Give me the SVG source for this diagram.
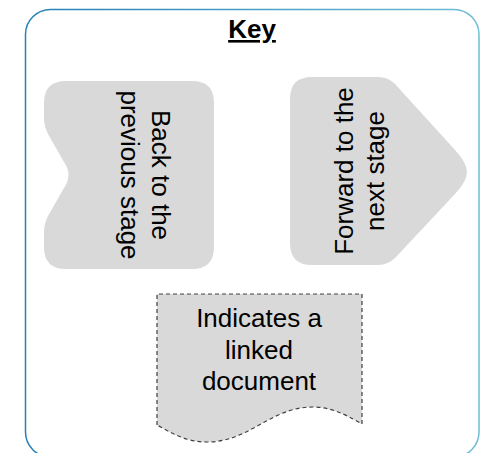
<svg xmlns="http://www.w3.org/2000/svg" width="493" height="453" viewBox="0 0 493 453">
<defs>
<linearGradient id="frameGrad" x1="0" y1="0" x2="1" y2="0">
<stop offset="0" stop-color="#2381B6"/>
<stop offset="1" stop-color="#6FBDD4"/>
</linearGradient>
</defs>
<style>
.lbl{font-family:"Liberation Sans",Arial,sans-serif;font-size:26px;fill:#000;text-anchor:middle}
.shape{fill:#D9D9D9;stroke:none}
.doc{fill:#D9D9D9;stroke:#404040;stroke-width:1.2;stroke-dasharray:4 3}
</style>
<rect width="493" height="453" fill="#fff"/>
<g id="frame">
<rect x="25.5" y="9.5" width="453.5" height="447.5" rx="25" ry="25" fill="none" stroke="url(#frameGrad)" stroke-width="1.5"/>
<text class="lbl" x="252" y="38" font-weight="bold" text-decoration="underline">Key</text>
</g>
<g id="back">
<path class="shape" d="M 66,81 H 192 Q 214,81 214,103 V 247 Q 214,269 192,269 H 66 Q 44,269 44,247 V 232 Q 44,224 48,216 L 64,188 Q 73,175 64,162 L 48,134 Q 44,126 44,118 V 103 Q 44,81 66,81 Z"/>
<text class="lbl" transform="translate(136,175) rotate(90)"><tspan x="0" y="-16">Back to the</tspan><tspan x="0" y="15.5">previous stage</tspan></text>
</g>
<g id="forward">
<path class="shape" d="M 312,77 H 378 Q 388,77 395,84 L 455,150 Q 467,163 467,172 Q 467,181 455,194 L 395,258 Q 388,265 378,265 H 312 Q 290,265 290,243 V 99 Q 290,77 312,77 Z"/>
<text class="lbl" transform="translate(368,171) rotate(-90)"><tspan x="0" y="-15">Forward to the</tspan><tspan x="0" y="16">next stage</tspan></text>
</g>
<g id="document">
<path class="doc" d="M 157,425 V 294 H 362 V 424 C 345,414 330,407 313,407 C 270,407 250,442 207,442 C 185,442 170,432 157,425 Z"/>
<text class="lbl"><tspan x="259" y="327">Indicates a</tspan><tspan x="259" y="358.5">linked</tspan><tspan x="259" y="390">document</tspan></text>
</g>
<g id="connectors"></g>
</svg>
